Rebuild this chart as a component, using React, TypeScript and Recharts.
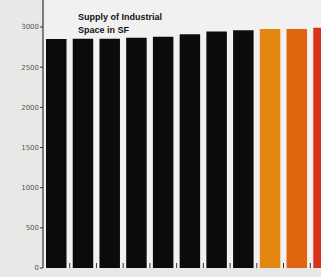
import React from "react";
import { BarChart, Bar, XAxis, YAxis, Cell, CartesianGrid } from "recharts";

const categories = ["1", "2", "3", "4", "5", "6", "7", "8", "9", "10", "11"];
const supplyValues = [2850, 2855, 2855, 2865, 2880, 2910, 2945, 2960, 2975, 2975, 2990];
const barColors = [
  "#0b0b0b", "#0b0b0b", "#0b0b0b", "#0b0b0b", "#0b0b0b", "#0b0b0b", "#0b0b0b", "#0b0b0b",
  "#e2870f", "#e0650f", "#d8331a",
];
const yTicks = [0, 500, 1000, 1500, 2000, 2500, 3000];
const boundaryTicks = [1, 2, 3, 4, 5, 6, 7, 8, 9, 10];
const titleLines = ["Supply of Industrial", "Space in SF"];

const data = categories.map((c, i) => ({ name: c, x: i + 0.5, value: supplyValues[i] }));

const EmptyTick = () => <g />;

export default function App() {
  return (
    <div
      style={{
        position: "fixed",
        left: 0,
        top: 0,
        width: 321,
        height: 277,
        overflow: "hidden",
        background: "#e8e8e6",
      }}
    >
      <BarChart width={337} height={277} data={data} margin={{ top: 0, right: 0, bottom: 9, left: 0 }}>
        <CartesianGrid horizontal={false} vertical={false} fill="#f1f1f1" />
        <YAxis
          type="number"
          domain={[0, 3336]}
          ticks={yTicks}
          width={43}
          tickSize={3}
          tickMargin={1}
          axisLine={{ stroke: "#333", strokeWidth: 1.2 }}
          tickLine={{ stroke: "#333" }}
          tick={{ fontSize: 7, fill: "#555", fontFamily: "DejaVu Sans" }}
          interval={0}
        />
        <Bar dataKey="value" barSize={20.5} isAnimationActive={false}>
          {data.map((d, i) => (
            <Cell key={d.name} fill={barColors[i]} />
          ))}
        </Bar>
        <XAxis
          dataKey="x"
          type="number"
          domain={[0, 11]}
          ticks={boundaryTicks}
          tick={EmptyTick}
          tickSize={5}
          mirror
          axisLine={false}
          tickLine={{ stroke: "#333", strokeWidth: 1 }}
          height={9}
          interval={0}
        />
      </BarChart>
      <div
        style={{
          position: "absolute",
          left: 78,
          top: 11,
          fontFamily: "Liberation Sans, Arial, sans-serif",
          fontWeight: "bold",
          fontSize: 9,
          lineHeight: "13px",
          color: "#111",
          whiteSpace: "nowrap",
        }}
      >
        {titleLines.map((t) => (
          <div key={t}>{t}</div>
        ))}
      </div>
    </div>
  );
}
